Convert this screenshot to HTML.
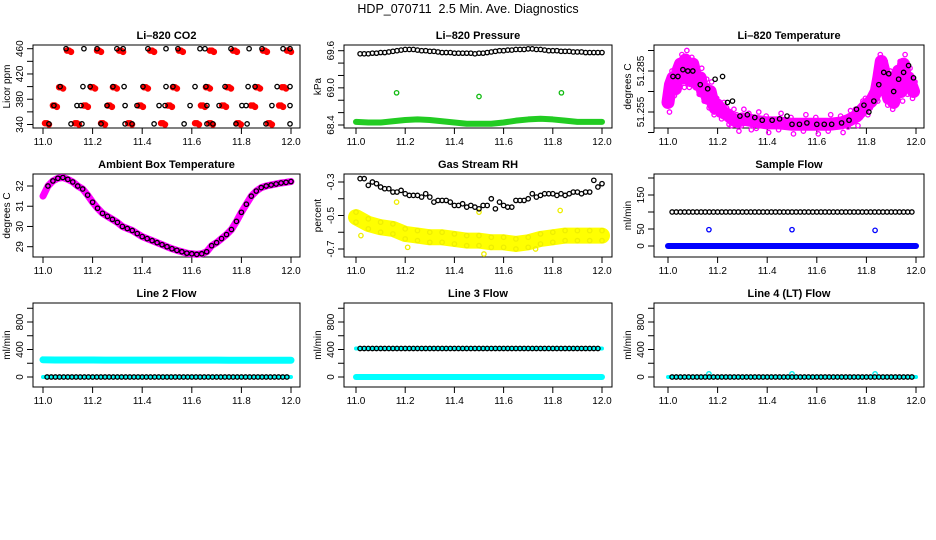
<!DOCTYPE html>
<html><head><meta charset="utf-8"><style>
body{margin:0;background:#fff}
svg{display:block;font-family:"Liberation Sans",Arial,sans-serif}
</style></head><body>
<svg id="c" width="936" height="540" viewBox="0 0 936 540">
<text x="468" y="13" text-anchor="middle" font-size="12.5" style="white-space:pre">HDP_070711  2.5 Min. Ave. Diagnostics</text>
</svg>
<script>
// ---------- data ----------
const xTicks = [11.0, 11.2, 11.4, 11.6, 11.8, 12.0];
const xTickLabels = ["11.0", "11.2", "11.4", "11.6", "11.8", "12.0"];
// CO2 (black observations)
const co2BlackT = [11.093,11.165,11.218,11.298,11.323,11.423,11.496,11.544,11.633,11.653,11.758,11.831,11.883,11.968,11.996,
 11.069,11.161,11.190,11.282,11.327,11.403,11.496,11.524,11.613,11.657,11.734,11.827,11.855,11.944,11.996,
 11.044,11.137,11.153,11.258,11.331,11.379,11.468,11.492,11.593,11.661,11.710,11.802,11.819,11.923,11.996,
 11.024,11.113,11.157,11.234,11.331,11.359,11.448,11.569,11.661,11.685,11.778,11.823,11.899,11.996];
const co2BlackV = [460,460,460,460,460,460,460,460,460,460,460,460,460,460,460,
 400,400,400,400,400,400,400,400,400,400,400,400,400,400,400,
 370,370,370,370,370,370,370,370,370,370,370,370,370,370,370,
 341,341,341,341,341,341,341,341,341,341,341,341,341,341];
const co2RedT = [11.105,11.226,11.315,11.440,11.556,11.681,11.774,11.895,11.992,
 11.073,11.202,11.290,11.415,11.532,11.665,11.750,11.867,11.972,
 11.048,11.173,11.270,11.395,11.512,11.645,11.730,11.847,11.960,
 11.016,11.137,11.242,11.351,11.484,11.621,11.677,11.790,11.915];
const co2RedV = [457,457,457,457,457,457,457,457,457,
 399,399,399,399,399,399,399,399,399,
 370,370,370,370,370,370,370,370,370,
 342,342,342,342,342,342,342,342,342];
// Pressure
const pressBlack = [69.55,69.55,69.55,69.56,69.56,69.57,69.57,69.58,69.59,69.6,
 69.61,69.62,69.62,69.62,69.61,69.6,69.6,69.59,69.59,69.58,
 69.57,69.57,69.57,69.56,69.56,69.56,69.56,69.56,69.55,69.56,
 69.56,69.57,69.58,69.59,69.6,69.6,69.61,69.61,69.62,69.62,
 69.62,69.63,69.63,69.62,69.62,69.61,69.6,69.6,69.6,69.59,
 69.59,69.59,69.58,69.58,69.58,69.57,69.57,69.57,69.57,69.57];
const pressGreen = [68.45,68.44,68.44,68.46,68.48,68.49,68.48,68.46,68.44,68.42,68.42,68.42,68.44,68.47,68.49,68.5,68.49,68.47,68.45,68.45,68.45];
const pressGreenOutT = [11.165, 11.5, 11.835];
const pressGreenOutV = [68.92, 68.86, 68.92];
// Li-820 temperature
const tempMagT = [11.00,11.01,11.02,11.03,11.04,11.05,11.06,11.07,11.08,11.09,11.10,11.11,11.12,11.13,11.14,11.15,11.16,11.17,11.18,11.19,11.20,11.22,11.24,11.26,11.28,11.30,11.33,11.36,11.40,11.45,11.50,11.55,11.60,11.65,11.70,11.73,11.76,11.78,11.80,11.82,11.84,11.85,11.86,11.87,11.88,11.89,11.90,11.91,11.92,11.93,11.94,11.95,11.96,11.97,11.98,11.99];
const tempMagV = [51.262,51.275,51.28,51.272,51.285,51.29,51.28,51.293,51.285,51.278,51.29,51.282,51.275,51.28,51.27,51.272,51.265,51.27,51.262,51.258,51.26,51.255,51.253,51.25,51.248,51.25,51.249,51.248,51.247,51.247,51.246,51.246,51.246,51.246,51.247,51.249,51.252,51.256,51.26,51.263,51.27,51.28,51.292,51.285,51.272,51.265,51.28,51.262,51.278,51.285,51.27,51.29,51.275,51.28,51.275,51.27];
const tempBlackT = [11.02,11.04,11.06,11.08,11.10,11.13,11.16,11.19,11.22,11.24,11.26,11.29,11.32,11.35,11.38,11.42,11.45,11.48,11.50,11.53,11.56,11.60,11.63,11.66,11.70,11.73,11.76,11.79,11.81,11.83,11.85,11.87,11.89,11.91,11.93,11.95,11.97,11.99];
const tempBlackV = [51.281,51.281,51.286,51.285,51.285,51.275,51.272,51.279,51.281,51.262,51.263,51.252,51.253,51.251,51.249,51.249,51.25,51.252,51.246,51.246,51.247,51.246,51.246,51.246,51.247,51.249,51.257,51.26,51.255,51.263,51.275,51.284,51.283,51.27,51.279,51.284,51.289,51.28];
// Ambient box temperature (times 11.00..12.00 step 0.02)
const ambient = [31.5,32.0,32.25,32.38,32.42,32.33,32.2,32.0,31.85,31.55,31.2,30.9,30.65,30.5,30.35,30.2,30.0,29.9,29.8,29.65,29.5,29.4,29.3,29.2,29.1,29.0,28.9,28.82,28.75,28.68,28.65,28.62,28.65,28.75,29.05,29.2,29.4,29.6,29.85,30.25,30.7,31.1,31.5,31.75,31.92,32.0,32.05,32.1,32.15,32.18,32.22];
// Gas stream RH
const rhBlack = [-0.28,-0.28,-0.32,-0.30,-0.31,-0.33,-0.34,-0.34,-0.36,-0.36,-0.35,-0.37,-0.38,-0.38,-0.38,-0.39,-0.37,-0.39,-0.42,-0.41,-0.41,-0.41,-0.42,-0.44,-0.44,-0.43,-0.45,-0.44,-0.45,-0.46,-0.44,-0.44,-0.40,-0.46,-0.42,-0.44,-0.45,-0.45,-0.41,-0.41,-0.41,-0.40,-0.37,-0.39,-0.38,-0.37,-0.37,-0.37,-0.38,-0.37,-0.38,-0.37,-0.36,-0.36,-0.37,-0.36,-0.36,-0.29,-0.33,-0.31];
const rhYellow = [-0.51,-0.55,-0.57,-0.58,-0.61,-0.62,-0.63,-0.63,-0.64,-0.65,-0.65,-0.66,-0.66,-0.67,-0.66,-0.64,-0.63,-0.62,-0.62,-0.62,-0.62];
const rhYellowOutT = [11.165,11.5,11.83,11.52,11.02,11.21,11.73];
const rhYellowOutV = [-0.42,-0.48,-0.47,-0.73,-0.62,-0.69,-0.70];
// Flows (60 samples each)
const sampleFlowBlack = Array(59).fill(100);
const sampleFlowBlue = [0,0,0,0,0,0,0,0,0,0,0,0,0,0,0,0,0,0,0,0,0];
const sampleFlowOutT = [11.165, 11.5, 11.835];
const sampleFlowOutV = [48, 48, 46];
const line2Black = Array(59).fill(0);
const line2Cyan = [250,248,248,247,247,246,246,246,245,245,245,245,245,245,245,244,244,244,244,244,244];
const line3Black = Array(59).fill(415);
const line3Cyan = [0,0,0,0,0,0,0,0,0,0,0,0,0,0,0,0,0,0,0,0,0];
const line4Black = Array(59).fill(0);
const line4CyanOutT = [11.165, 11.5, 11.835];
const line4CyanOutV = [45, 45, 45];

// ---------- drawing ----------
const svg = document.getElementById('c');
const NS = 'http://www.w3.org/2000/svg';
function mk(tag, attrs, parent){const e=document.createElementNS(NS,tag);for(const k in attrs)e.setAttribute(k,attrs[k]);(parent||svg).appendChild(e);return e;}

function panel(o){
  const g = mk('g',{});
  
  
  o.g = g;
  o.x = v => o.x11 + (v-11)*o.xs;
  o.y = v => o.yA + (v-o.vA)*(o.yB-o.yA)/(o.vB-o.vA);
  const box = mk('rect',{x:o.L,y:o.T,width:o.R-o.L,height:o.B-o.T,fill:'none',stroke:'#000','stroke-width':1},g);
  
  
  const t = mk('text',{x:(o.L+o.R)/2,y:o.T-6,'text-anchor':'middle','font-size':11,'font-weight':'bold'},g);
  t.textContent = o.title;
  
  
  const xa = mk('g',{},g);
  
  
  mk('line',{x1:o.x(11),x2:o.x(12),y1:o.B,y2:o.B,stroke:'#000'},xa);
  xTicks.forEach((v,i)=>{
    mk('line',{x1:o.x(v),x2:o.x(v),y1:o.B,y2:o.B+6,stroke:'#000'},xa);
    const tl = mk('text',{x:o.x(v),y:o.B+17,'text-anchor':'middle','font-size':10},xa);
    tl.textContent = xTickLabels[i];
    
    
  });
  const ya = mk('g',{},g);
  
  
  mk('line',{x1:o.L,x2:o.L,y1:o.y(o.yTicks[0]),y2:o.y(o.yTicks[o.yTicks.length-1]),stroke:'#000'},ya);
  o.yTicks.forEach(v=>{
    mk('line',{x1:o.L-6,x2:o.L,y1:o.y(v),y2:o.y(v),stroke:'#000'},ya);
  });
  o.yLabels.forEach((lab,i)=>{
    const yy=o.y(o.yLabelVals[i]);
    const tl = mk('text',{x:o.L-10,y:yy,'text-anchor':'middle','font-size':10,transform:`rotate(-90 ${o.L-10} ${yy})`},ya);
    tl.textContent = lab;
    
    
  });
  const yc=(o.T+o.B)/2;
  const yt = mk('text',{x:o.L-23,y:yc,'text-anchor':'middle','font-size':10,transform:`rotate(-90 ${o.L-23} ${yc})`},g);
  yt.textContent = o.ytitle;
  
  
  return o;
}
function pts(o, ts, vs, color, name, filled, r){
  const g = mk('g',{},o.g);
  
  
  vs.forEach((v,i)=>{
    const c = mk('circle',{cx:o.x(ts[i]),cy:o.y(v),r:r||2.2,fill:filled?color:'none',stroke:color,'stroke-width':1.3},g);
    
    
  });
}
function band(o, ts, vs, color, name, w){
  const p = mk('polyline',{points:vs.map((v,i)=>o.x(ts[i])+','+o.y(v)).join(' '),fill:'none',stroke:color,'stroke-width':w,'stroke-linecap':'round','stroke-linejoin':'round'},o.g);
  
  
}
const idxT = n => Array.from({length:n},(_,i)=>11+(i+1)/60);
const t20 = n => Array.from({length:n},(_,i)=>11+i*(1/(n-1)));

const cols=[{L:33,R:300,x11:43,xs:248},{L:344,R:612,x11:356,xs:246},{L:654,R:924,x11:668,xs:248}];
const rows=[{T:45,B:128},{T:174,B:257},{T:303,B:387}];
function P(r,c,extra){return panel(Object.assign({},cols[c],rows[r],extra));}

// 1 CO2
let p = P(0,0,{name:'co2-panel',title:'Li\u2013820 CO2',ytitle:'Licor ppm',vA:340,yA:124.5,vB:460,yB:48.7,yTicks:[340,360,380,400,420,440,460],yLabels:['340','380','420','460'],yLabelVals:[340,380,420,460]});
pts(p, co2RedT.map(t=>t-0.008), co2RedV, '#f00', 'co2-red-series', true, 2.6);
pts(p, co2RedT, co2RedV, '#f00', 'co2-red-series', true, 2.6);
pts(p, co2RedT.map(t=>t+0.008), co2RedV.map(v=>v-2), '#f00', 'co2-red-series', true, 2.6);
pts(p, co2BlackT, co2BlackV, '#000', 'co2-black-series');

// 2 pressure
p = P(0,1,{name:'pressure-panel',title:'Li\u2013820 Pressure',ytitle:'kPa',vA:69.6,yA:50.7,vB:68.4,yB:125,yTicks:[68.4,68.6,68.8,69.0,69.2,69.4,69.6],yLabels:['68.4','69.0','69.6'],yLabelVals:[68.4,69.0,69.6]});
band(p, t20(pressGreen.length), pressGreen, '#2c2', 'pressure-green-band', 6);
pts(p, pressGreenOutT, pressGreenOutV, '#1b1', 'pressure-green-outliers');
pts(p, idxT(pressBlack.length), pressBlack, '#000', 'pressure-black-series');

// 3 temperature
p = P(0,2,{name:'li820-temp-panel',title:'Li\u2013820 Temperature',ytitle:'degrees C',vA:51.285,yA:71,vB:51.255,yB:112,yTicks:[51.24,51.255,51.27,51.285,51.30],yLabels:['51.255','51.285'],yLabelVals:[51.255,51.285]});
band(p, tempMagT, tempMagV, '#f0f', 'temp-magenta-band', 13);
pts(p, tempMagT.map(t=>t+0.006), tempMagV.map((v,i)=>v+(i%2?0.007:-0.007)), '#f0f', 'temp-magenta-series');
pts(p, tempMagT.map(t=>t-0.004), tempMagV.map((v,i)=>v+(i%2?-0.005:0.005)), '#f0f', 'temp-magenta-series');
pts(p, tempBlackT, tempBlackV, '#000', 'temp-black-series');

// 4 ambient
p = P(1,0,{name:'ambient-temp-panel',title:'Ambient Box Temperature',ytitle:'degrees C',vA:32,yA:186,vB:29,yB:246.7,yTicks:[29,30,31,32],yLabels:['29','30','31','32'],yLabelVals:[29,30,31,32]});
band(p, t20(ambient.length), ambient, '#f0f', 'ambient-magenta-band', 7);
pts(p, t20(ambient.length).slice(1), ambient.slice(1), '#000', 'ambient-black-series');

// 5 RH
p = P(1,1,{name:'rh-panel',title:'Gas Stream RH',ytitle:'percent',vA:-0.3,yA:182,vB:-0.7,yB:249,yTicks:[-0.7,-0.6,-0.5,-0.4,-0.3],yLabels:['-0.7','-0.5','-0.3'],yLabelVals:[-0.7,-0.5,-0.3]});
band(p, t20(rhYellow.length), rhYellow, '#ff0', 'rh-yellow-band', 16);
pts(p, t20(rhYellow.length), rhYellow.map(v=>v+0.03), '#ee0', 'rh-yellow-series');
pts(p, t20(rhYellow.length), rhYellow.map(v=>v-0.03), '#ee0', 'rh-yellow-series');
pts(p, rhYellowOutT, rhYellowOutV, '#ee0', 'rh-yellow-outliers');
pts(p, idxT(rhBlack.length), rhBlack, '#000', 'rh-black-series');

// 6 sample flow
p = P(1,2,{name:'sample-flow-panel',title:'Sample Flow',ytitle:'ml/min',vA:0,yA:246,vB:150,yB:195,yTicks:[0,50,100,150,200],yLabels:['0','50','150'],yLabelVals:[0,50,150]});
band(p, t20(sampleFlowBlue.length), sampleFlowBlue, '#00f', 'sample-flow-blue-band', 6);
pts(p, sampleFlowOutT, sampleFlowOutV, '#00f', 'sample-flow-outliers');
pts(p, idxT(sampleFlowBlack.length), sampleFlowBlack, '#000', 'sample-flow-black-series');

const flowTicks=[0,200,400,600,800,1000];
// 7 line2
p = P(2,0,{name:'line2-flow-panel',title:'Line 2 Flow',ytitle:'ml/min',vA:0,yA:377,vB:800,yB:322,yTicks:flowTicks,yLabels:['0','400','800'],yLabelVals:[0,400,800]});
band(p, t20(line2Cyan.length), line2Cyan, '#0ff', 'line2-cyan-band', 7);
band(p, [11.0,12.0], [0,0], '#0ff', 'line2-cyan-zero', 4);
pts(p, idxT(line2Black.length), line2Black, '#000', 'line2-black-series');
// 8 line3
p = P(2,1,{name:'line3-flow-panel',title:'Line 3 Flow',ytitle:'ml/min',vA:0,yA:377,vB:800,yB:322,yTicks:flowTicks,yLabels:['0','400','800'],yLabelVals:[0,400,800]});
band(p, t20(line3Cyan.length), line3Cyan, '#0ff', 'line3-cyan-band', 6);
band(p, [11.0,12.0], [415,415], '#0ff', 'line3-cyan-upper', 4);
pts(p, idxT(line3Black.length), line3Black, '#000', 'line3-black-series');
// 9 line4
p = P(2,2,{name:'line4-flow-panel',title:'Line 4 (LT) Flow',ytitle:'ml/min',vA:0,yA:377,vB:800,yB:322,yTicks:flowTicks,yLabels:['0','400','800'],yLabelVals:[0,400,800]});
band(p, [11.0,12.0], [0,0], '#0ff', 'line4-cyan-zero', 4);
pts(p, line4CyanOutT, line4CyanOutV, '#0ee', 'line4-cyan-outliers');
pts(p, idxT(line4Black.length), line4Black, '#000', 'line4-black-series');
</script>
</body></html>
